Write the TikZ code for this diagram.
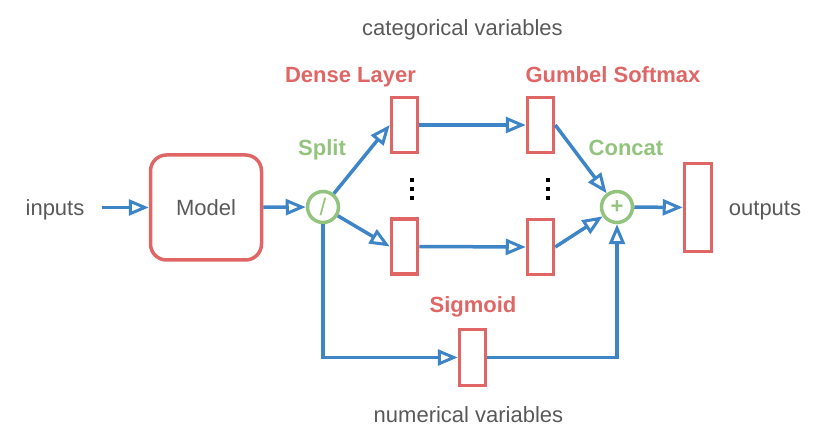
\documentclass[tikz,border=0pt]{standalone}
\usepackage{fontspec}
\setmainfont{Liberation Sans}
\usetikzlibrary{arrows.meta}
\definecolor{cred}{RGB}{224,102,102}
\definecolor{cblue}{RGB}{61,133,198}
\definecolor{cgreen}{RGB}{147,196,125}
\definecolor{cgray}{RGB}{89,89,89}
\begin{document}
\begin{tikzpicture}[x=1pt,y=-1pt,
  txt/.style={font=\fontsize{22}{26}\selectfont, text=cgray, anchor=base, inner sep=0},
  redlbl/.style={font=\fontsize{22}{26}\selectfont\bfseries, text=cred, anchor=base, inner sep=0},
  greenlbl/.style={font=\fontsize{22}{26}\selectfont\bfseries, text=cgreen, anchor=base, inner sep=0},
  layer/.style={draw=cred, line width=3.5pt, rectangle, inner sep=0, minimum width=26pt, minimum height=55pt},
  opnode/.style={draw=cgreen, line width=3.5pt, circle, inner sep=0, minimum size=31pt, text=cgreen, font=\fontsize{22}{26}\selectfont\bfseries},
  conn/.style={draw=cblue, line width=3.5pt, -{Triangle[open, fill=white, length=20pt, width=16pt, line width=3pt]}},
  dot/.style={fill=black, inner sep=0, minimum size=4.5pt, rectangle}
]
\useasboundingbox (0,0) rectangle (830,443);

% text labels
\node[txt] (catlbl) at (462.5,36) {categorical variables};
\node[txt] (numlbl) at (468.5,423) {numerical variables};
\node[txt] (inlbl) at (55,216) {inputs};
\node[txt] (outlbl) at (765,216) {outputs};
\node[redlbl] (denselbl) at (350.5,83) {Dense Layer};
\node[redlbl] (gumbellbl) at (613,83) {Gumbel Softmax};
\node[redlbl] (siglbl) at (473,313) {Sigmoid};
\node[greenlbl] (splitlbl) at (322,156) {Split};
\node[greenlbl] (concatlbl) at (626,156) {Concat};

% main nodes
\node[draw=cred, line width=3.5pt, rounded corners=16pt, minimum width=111pt, minimum height=105pt, inner sep=0,
      font=\fontsize{22}{26}\selectfont, text=cgray] (model) at (206,207.5) {Model};
\node[opnode, font=\fontsize{24}{28}\selectfont] (split) at (323,207) {/};
\node[layer] (d1) at (404.5,125) {};
\node[layer] (d2) at (404.5,246.5) {};
\node[layer] (g1) at (540.5,125) {};
\node[layer] (g2) at (540.5,247) {};
\node[opnode] (concat) at (617,207) {+};
\node[layer, minimum width=27pt, minimum height=88pt] (out) at (698,207.5) {};
\node[layer, minimum height=56pt] (sig) at (472.5,357.5) {};

% dots
\node[dot] (da1) at (412,180) {};
\node[dot] (da2) at (412,189) {};
\node[dot] (da3) at (412,198) {};
\node[dot] (db1) at (548,180) {};
\node[dot] (db2) at (548,189) {};
\node[dot] (db3) at (548,198) {};

% connectors
\coordinate (inp) at (102,207.5);
\draw[conn] (inp) -- (model);
\draw[conn] (model) -- (split);
\draw[conn] (split) -- (d1.west);
\draw[conn] (split) -- (d2.west);
\draw[conn] (d1.east) -- (g1.west);
\draw[conn] (d2.east) -- (g2.west);
\draw[conn] (g1.east) -- (concat);
\draw[conn] (g2.east) -- (concat);
\draw[conn] (concat) -- (out);
\draw[conn] (split) |- (sig);
\draw[conn] (sig) -| (concat);
\end{tikzpicture}
\end{document}
